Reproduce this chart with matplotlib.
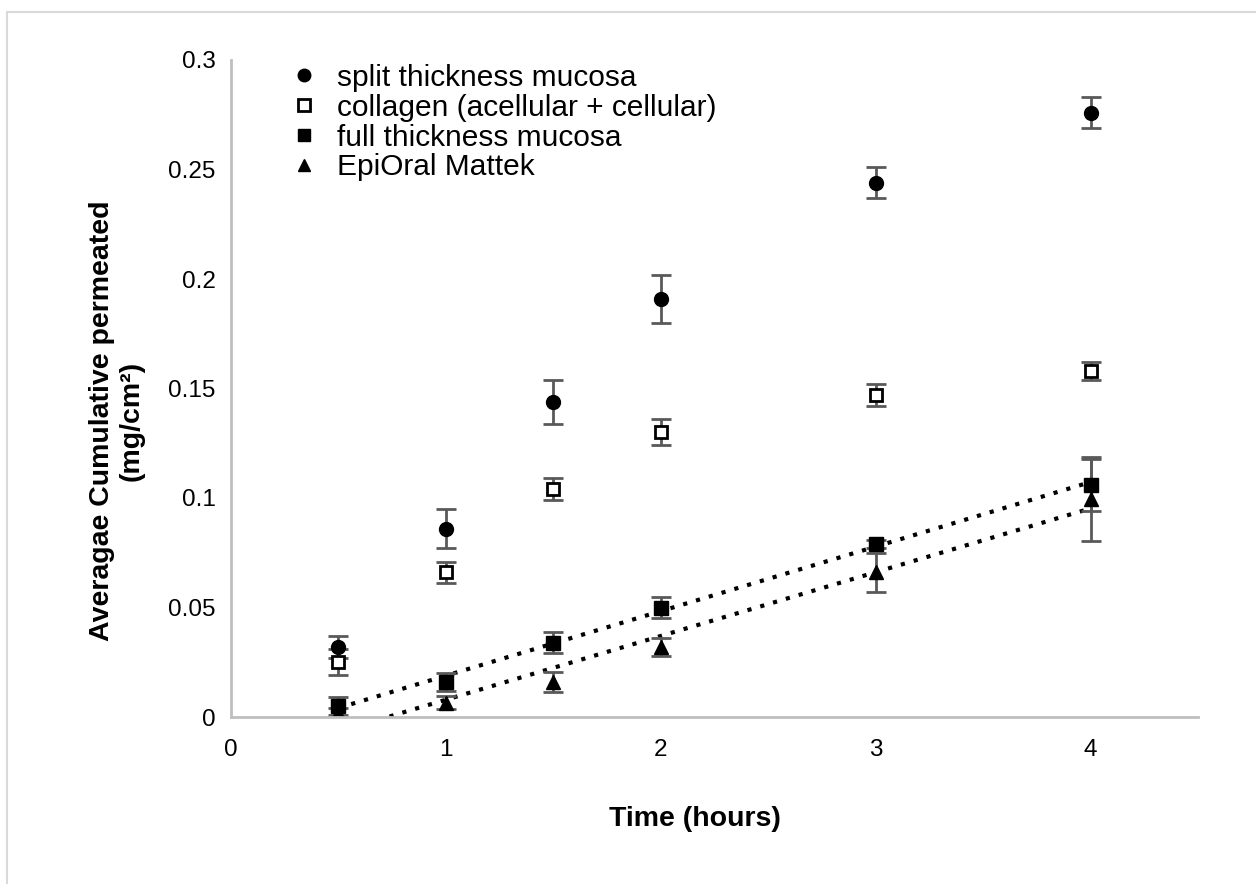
import matplotlib.pyplot as plt
import numpy as np
from matplotlib.patches import Rectangle

plt.rcParams["font.family"] = ["Liberation Sans", "DejaVu Sans"]

TIME = [0.5, 1, 1.5, 2, 3, 4]

SPLIT = [0.032, 0.086, 0.144, 0.191, 0.244, 0.276]
SPLIT_ERR = [0.005, 0.009, 0.010, 0.011, 0.007, 0.007]
COLLAGEN = [0.025, 0.066, 0.104, 0.130, 0.147, 0.158]
COLLAGEN_ERR = [0.006, 0.005, 0.005, 0.006, 0.005, 0.004]
FULL = [0.005, 0.016, 0.034, 0.050, 0.079, 0.106]
FULL_ERR = [0.004, 0.004, 0.005, 0.005, 0.002, 0.012]
EPI = [0.002, 0.0065, 0.016, 0.032, 0.066, 0.0995]
EPI_ERR = [0.002, 0.003, 0.0045, 0.004, 0.009, 0.019]

LABELS = [
    "split thickness mucosa",
    "collagen (acellular + cellular)",
    "full thickness mucosa",
    "EpiOral Mattek",
]

fig = plt.figure(figsize=(12.56, 8.84), dpi=100)
fig.patches.append(Rectangle((7 / 1256, -0.2), 1.2, 1.2 - 12 / 884, transform=fig.transFigure,
                             fill=False, edgecolor="#d9d9d9", linewidth=1.5))
ax = fig.add_axes([231 / 1256, 1 - 717 / 884, (1198 - 231) / 1256, (717 - 60) / 884])

err_kw = dict(ecolor="#595959", elinewidth=2, capsize=7, capthick=2, linestyle="none")
x = np.array(TIME)

ax.errorbar(x, SPLIT, yerr=SPLIT_ERR, marker="o", ms=10, mfc="black", mec="black", **err_kw)
ax.errorbar(x, COLLAGEN, yerr=COLLAGEN_ERR, marker="s", ms=9, mfc="white", mec="black", mew=2, **err_kw)
ax.errorbar(x, FULL, yerr=FULL_ERR, marker="s", ms=10, mfc="black", mec="black", **err_kw)
ax.errorbar(x, EPI, yerr=EPI_ERR, marker="^", ms=10, mfc="black", mec="black", **err_kw)

# linear trendlines over data range
xs = np.linspace(min(TIME), max(TIME), 50)
for ys in (FULL, EPI):
    k, b = np.polyfit(x, ys, 1)
    ax.plot(xs, k * xs + b, color="black", linestyle=(0, (1, 2.2)), linewidth=3, zorder=1)

ax.set_xlim(0, 4.5)
ax.set_ylim(0, 0.3)
ax.set_xticks([0, 1, 2, 3, 4])
ax.set_xticklabels(["0", "1", "2", "3", "4"])
ax.set_yticks([0, 0.05, 0.1, 0.15, 0.2, 0.25, 0.3])
ax.set_yticklabels(["0", "0.05", "0.1", "0.15", "0.2", "0.25", "0.3"])
ax.tick_params(length=0, labelsize=17.5, colors="#404040", pad=11)
ax.tick_params(axis="x", pad=16)
for lab in ax.get_xticklabels() + ax.get_yticklabels():
    lab.set_color("black")
for s in ("top", "right"):
    ax.spines[s].set_visible(False)
for s in ("left", "bottom"):
    ax.spines[s].set_color("#bfbfbf")
    ax.spines[s].set_linewidth(2)

ax.set_xlabel("Time (hours)", fontsize=20.5, fontweight="bold")
ax.set_ylabel("Averagae Cumulative permeated\n(mg/cm²)", fontsize=20.5,
              fontweight="bold", linespacing=1.2)
ax.xaxis.set_label_coords((695 - 231) / 967, (717 - 806) / 657)
ax.yaxis.set_label_coords((145 - 231) / 967, (717 - 421) / 657)

handles = [
    plt.Line2D([], [], marker="o", ms=9, color="black", linestyle="none"),
    plt.Line2D([], [], marker="s", ms=8, mfc="white", mec="black", mew=2, linestyle="none"),
    plt.Line2D([], [], marker="s", ms=9, color="black", linestyle="none"),
    plt.Line2D([], [], marker="^", ms=9, color="black", linestyle="none"),
]
ax.legend(handles, LABELS, loc="upper left", bbox_to_anchor=(271 / 1256, 1 - 49 / 884),
          bbox_transform=fig.transFigure, frameon=False, fontsize=21.5,
          handletextpad=0.5, handlelength=1.2, labelspacing=0.06, borderpad=0)

fig.savefig("out.png", dpi=100)
